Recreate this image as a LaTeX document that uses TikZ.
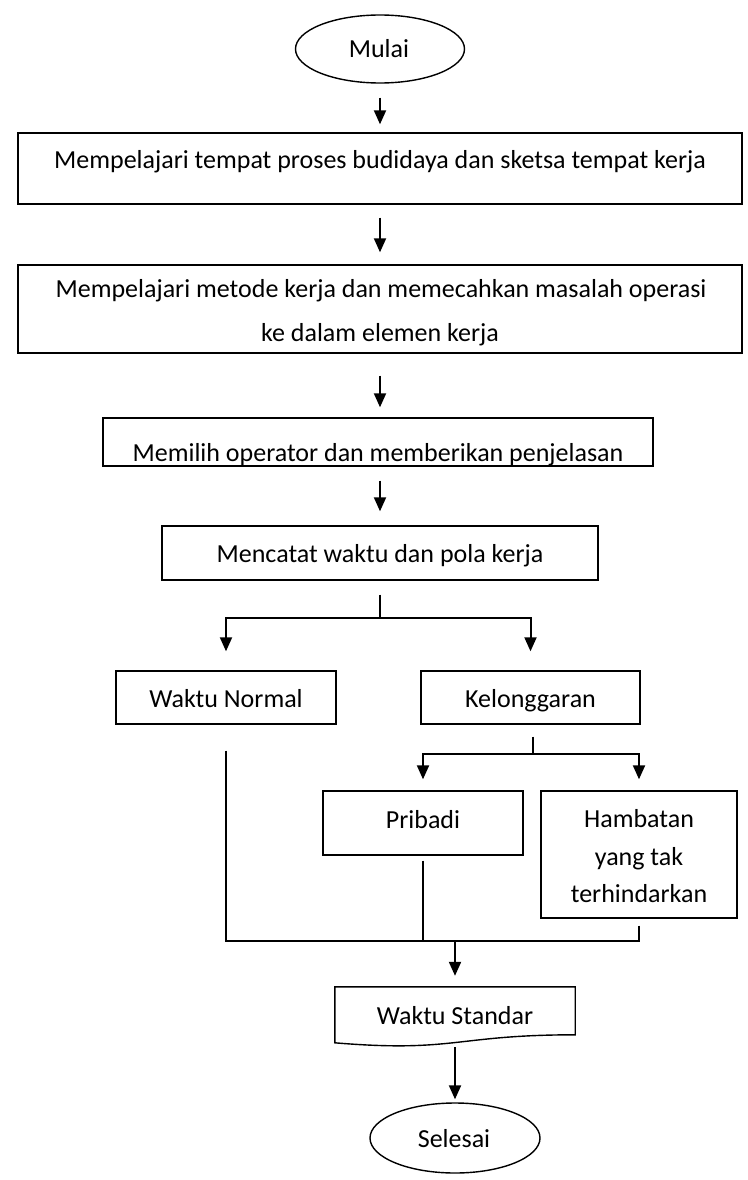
\documentclass[tikz,border=0pt]{standalone}
\usepackage{fontspec}
\setmainfont{Carlito}
\usetikzlibrary{arrows.meta,calc,shapes.geometric}
\begin{document}
\begin{tikzpicture}[x=1pt,y=-1pt,
  box/.style={draw, line width=1.4pt, rectangle, inner sep=0pt},
  oval/.style={draw, line width=1.4pt, ellipse, inner sep=0pt},
  txt/.style={inner sep=0pt, anchor=base, font=\fontsize{26}{31}\selectfont},
  ln/.style={line width=2pt},
  arr/.style={line width=2pt, -{Triangle[width=12pt,length=14pt]}},
]
\useasboundingbox (0,0) rectangle (747,1180);

% start
\node[oval, minimum width=169pt, minimum height=68pt] (mulai) at (380,49) {};
\node[txt] (tmulai) at (379,58) {Mulai};

% main sequence of steps
\node[box, minimum width=724pt, minimum height=71pt] (box1) at (380,168.5) {};
\node[txt] (t1) at (380,168) {Mempelajari tempat proses budidaya dan sketsa tempat kerja};

\node[box, minimum width=724pt, minimum height=88pt] (box2) at (380,309) {};
\node[txt] (t2a) at (381,297) {Mempelajari metode kerja dan memecahkan masalah operasi};
\node[txt] (t2b) at (380,341) {ke dalam elemen kerja};

\node[box, minimum width=550pt, minimum height=48pt] (box3) at (378,442) {};
\begin{scope}
  \clip (box3.north west) rectangle ($(box3.south east)+(0,-1)$);
  \node[txt] (t3) at (378,461) {Memilih operator dan memberikan penjelasan};
\end{scope}

\node[box, minimum width=436pt, minimum height=54pt] (box4) at (380,553) {};
\node[txt] (t4) at (380,562) {Mencatat waktu dan pola kerja};

% first split
\node[box, minimum width=220pt, minimum height=53pt] (wn) at (226,697.5) {};
\node[txt] (twn) at (226,707) {Waktu Normal};
\node[box, minimum width=219pt, minimum height=53pt] (kel) at (530.5,697.5) {};
\node[txt] (tkel) at (530.5,707) {Kelonggaran};

% allowance split
\node[box, minimum width=200pt, minimum height=64pt] (pri) at (423,823) {};
\node[txt] (tpri) at (423,828) {Pribadi};
\node[box, minimum width=196pt, minimum height=127pt] (ham) at (639,854.5) {};
\node[txt] (th1) at (639,827) {Hambatan};
\node[txt] (th2) at (639,865) {yang tak};
\node[txt] (th3) at (639,902) {terhindarkan};

% result (document shape)
\node[inner sep=0pt, minimum width=240pt, minimum height=60pt] (ws) at (455,1017) {};
\draw[line width=1.4pt] (ws.north west) -- (ws.north east) -- ($(ws.north east)+(0,48)$)
  .. controls ($(ws.north)+(0,48)$) and ($(ws.north)+(0,66)$) .. ($(ws.north west)+(0,56)$) -- cycle;
\node[txt] (tws) at (455,1024) {Waktu Standar};

% end
\node[oval, minimum width=170pt, minimum height=70pt] (sel) at (455,1138) {};
\node[txt] (tsel) at (454,1147) {Selesai};

% connectors
\draw[arr, shorten <=14pt, shorten >=8pt] (mulai.south) -- (box1.north);
\draw[arr, shorten <=13pt, shorten >=12pt] (box1.south) -- (box2.north);
\draw[arr, shorten <=22pt, shorten >=10pt] (box2.south) -- (box2.south |- box3.north);
\draw[arr, shorten <=14pt, shorten >=14pt] (box3.south -| box4.north) -- (box4.north);

\coordinate (j1) at ($(box4.south)+(0,37)$);
\draw[ln, shorten <=14pt] (box4.south) -- (j1);
\draw[arr, shorten >=19pt] (j1) -| (wn.north);
\draw[arr, shorten >=19pt] (j1) -| (kel.north);

\coordinate (j2) at ($(kel.south)+(2.5,29)$);
\draw[ln, shorten <=12pt] (kel.south -| j2) -- (j2);
\draw[arr, shorten >=11pt] (j2) -| (pri.north);
\draw[arr, shorten >=11pt] (j2) -| (ham.north);

\coordinate (j3) at (455,941);
\draw[ln, shorten <=26pt] (wn.south) |- (j3);
\draw[ln, shorten <=5pt] (pri.south) -- (pri.south |- j3);
\draw[ln, shorten <=7pt] (ham.south) |- (j3);
\draw[arr, shorten >=11pt] (j3) -- (ws.north);
\draw[arr, shorten >=3pt] (ws.south) -- (sel.north);
\end{tikzpicture}
\end{document}
